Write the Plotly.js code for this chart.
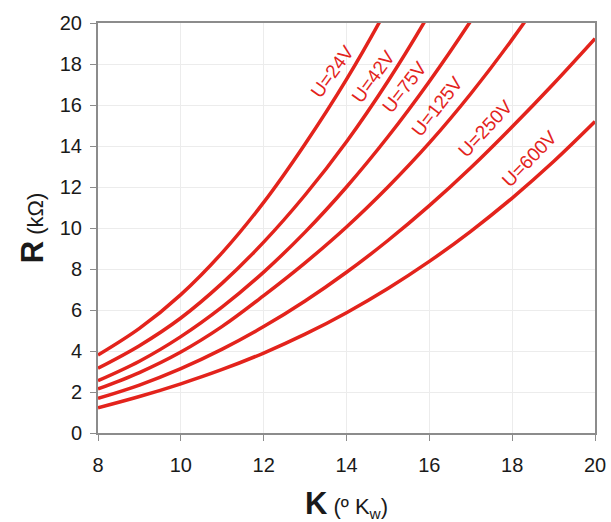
<!DOCTYPE html>
<html>
<head>
<meta charset="utf-8">
<script src="https://cdn.plot.ly/plotly-3.0.1.min.js"></script>
<style>html,body{margin:0;padding:0;background:#fff;}#chart{width:611px;height:522px;}</style>
</head>
<body>
<div id="chart"></div>
<script>
// K values (º Kw)
const K = [8, 9, 10, 11, 12, 13, 14, 15, 16, 17, 18, 19, 20];
// R (kΩ) for each supply voltage
const R_24V  = [3.80, 5.10, 6.75, 8.80, 11.25, 14.10, 17.25, 20.80, 24.75];
const R_42V  = [3.16, 4.26, 5.61, 7.31, 9.31, 11.61, 14.21, 17.16, 20.46, 24.11];
const R_75V  = [2.55, 3.50, 4.70, 6.15, 7.85, 9.80, 12.00, 14.45, 17.15, 20.10, 23.30];
const R_125V = [2.15, 2.95, 3.95, 5.20, 6.70, 8.30, 10.05, 12.00, 14.15, 16.55, 19.20, 22.10];
const R_250V = [1.69, 2.34, 3.14, 4.09, 5.19, 6.44, 7.84, 9.39, 11.09, 12.94, 14.94, 17.04, 19.24];
const R_600V = [1.23, 1.78, 2.40, 3.10, 3.90, 4.82, 5.87, 7.05, 8.37, 9.84, 11.46, 13.24, 15.19];
const seriesNames = ['U=24V', 'U=42V', 'U=75V', 'U=125V', 'U=250V', 'U=600V'];
const seriesValues = [R_24V, R_42V, R_75V, R_125V, R_250V, R_600V];
// label anchor positions (K, R) and angles
const labelK = [13.66, 14.65, 15.39, 16.18, 17.36, 18.43];
const labelR = [17.62, 17.38, 16.86, 15.95, 14.83, 13.37];
const labelAngle = [-54, -54, -52, -52, -47, -46];

const RED = '#e3231c';
const FONT = 'Liberation Sans, Arial, sans-serif';

const traces = seriesValues.map((vals, i) => ({
  type: 'scatter',
  mode: 'lines',
  x: K.slice(0, vals.length),
  y: vals,
  name: seriesNames[i],
  line: {color: RED, width: 3.5, shape: 'spline', smoothing: 1},
  hoverinfo: 'skip',
  showlegend: false
}));

const annotations = seriesNames.map((t, i) => ({
  x: labelK[i], y: labelR[i], xref: 'x', yref: 'y',
  text: t, showarrow: false, textangle: labelAngle[i],
  font: {family: FONT, size: 19, color: RED}
}));

const axisCommon = {
  showgrid: true, gridcolor: '#ececec', gridwidth: 1,
  showline: true, linecolor: '#8c8c8c', linewidth: 2, mirror: true,
  ticks: 'outside', ticklen: 6, tickcolor: '#8c8c8c', tickwidth: 1,
  zeroline: false,
  tickfont: {family: FONT, size: 20, color: '#1a1a1a'}
};

const layout = {
  width: 611, height: 522,
  margin: {l: 98, r: 16, t: 23, b: 89},
  paper_bgcolor: '#ffffff', plot_bgcolor: '#ffffff',
  font: {family: FONT, color: '#1a1a1a'},
  showlegend: false,
  xaxis: Object.assign({}, axisCommon, {
    range: [8, 20], tick0: 8, dtick: 2,
    ticklabelstandoff: 7,
    title: {text: '<b><span style="font-size:31px">K</span></b> (º K<sub>w</sub>)', font: {family: FONT, size: 22, color: '#1a1a1a'}, standoff: 37}
  }),
  yaxis: Object.assign({}, axisCommon, {
    range: [0, 20], tick0: 0, dtick: 2,
    ticklabelstandoff: 4,
    title: {text: '<b><span style="font-size:31px">R</span></b> (kΩ)', font: {family: FONT, size: 22, color: '#1a1a1a'}, standoff: 10}
  }),
  annotations: annotations
};

Plotly.newPlot('chart', traces, layout, {displayModeBar: false, staticPlot: true});
</script>
</body>
</html>
